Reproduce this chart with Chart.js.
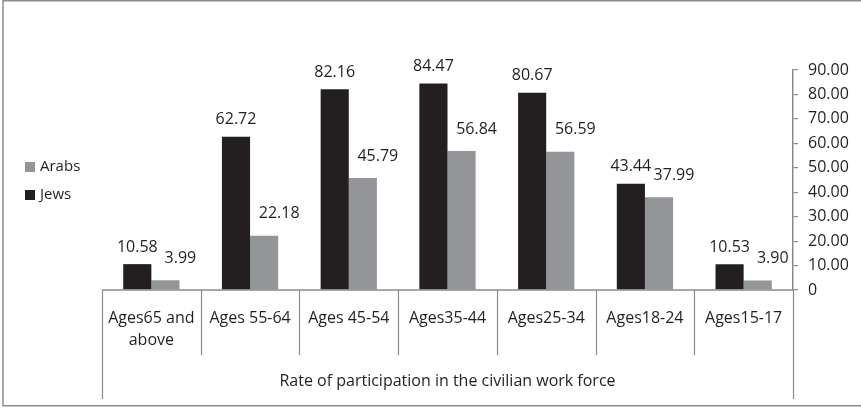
<!DOCTYPE html>
<html>
<head>
<meta charset="utf-8">
<script src="https://cdn.jsdelivr.net/npm/chart.js@4/dist/chart.umd.min.js"></script>
<style>
  html, body { margin: 0; padding: 0; background: #ffffff; }
  #wrap { width: 861px; height: 408px; position: relative; }
</style>
</head>
<body>
<div id="wrap"><canvas id="c" width="861" height="408"></canvas></div>
<script>
// ---- data ----
const categories = [["Ages65 and", "above"], "Ages 55-64", "Ages 45-54", "Ages35-44", "Ages25-34", "Ages18-24", "Ages15-17"];
const jews  = [10.58, 62.72, 82.16, 84.47, 80.67, 43.44, 10.53];
const arabs = [3.99, 22.18, 45.79, 56.84, 56.59, 37.99, 3.90];
const yTicks = [0, 10, 20, 30, 40, 50, 60, 70, 80, 90];
const axisTitle = "Rate of participation in the civilian work force";

const FONT = "'Open Sans', sans-serif";
const TEXT = "#231f20";
const LINE = "#8a8a8a";

const overlay = {
  id: 'overlay',
  beforeDraw(chart) {
    const ctx = chart.ctx;
    ctx.save();
    ctx.fillStyle = '#ffffff';
    ctx.fillRect(0, 0, chart.width, chart.height);
    ctx.strokeStyle = '#8c8c8c';
    ctx.lineWidth = 1.5;
    ctx.strokeRect(3, 0.75, 880, 405);
    ctx.restore();
  },
  afterDraw(chart) {
    const ctx = chart.ctx;
    const xs = chart.scales.x, ys = chart.scales.y;
    const area = chart.chartArea;
    ctx.save();
    // category separators
    ctx.strokeStyle = LINE;
    ctx.lineWidth = 1.2;
    const n = categories.length;
    for (let i = 0; i <= n; i++) {
      const x = Math.round(xs.getPixelForValue(i - 0.5)) + 0.5;
      const bottom = (i === 0 || i === n) ? 399 : 355;
      ctx.beginPath();
      ctx.moveTo(x, area.bottom);
      ctx.lineTo(x, bottom);
      ctx.stroke();
    }
    // baseline
    ctx.lineWidth = 1.5;
    ctx.beginPath();
    ctx.moveTo(area.left, ys.getPixelForValue(0));
    ctx.lineTo(area.right, ys.getPixelForValue(0));
    ctx.stroke();
    // value labels
    ctx.fillStyle = TEXT;
    ctx.font = "16px " + FONT;
    ctx.textAlign = 'center';
    ctx.textBaseline = 'middle';
    chart.data.datasets.forEach((ds, di) => {
      const meta = chart.getDatasetMeta(di);
      const dx = di === 0 ? 0 : 15;
      const dy = di === 0 ? 17 : 22;
      meta.data.forEach((bar, i) => {
        ctx.fillText(ds.data[i].toFixed(2), bar.x + dx, bar.y - dy);
      });
    });
    // legend (Arabs above Jews)
    ctx.font = "15px " + FONT;
    const order = [1, 0];
    ctx.textAlign = 'left';
    order.forEach((di, k) => {
      const ds = chart.data.datasets[di];
      const cy = 167 + k * 28;
      ctx.fillStyle = ds.backgroundColor;
      ctx.fillRect(25, cy - 5, 10, 10);
      ctx.fillStyle = TEXT;
      ctx.fillText(ds.label, 40, cy);
    });
    ctx.restore();
  }
};

new Chart(document.getElementById('c'), {
  type: 'bar',
  data: {
    labels: categories,
    datasets: [
      { label: 'Jews', data: jews, backgroundColor: '#231f20', borderWidth: 0 },
      { label: 'Arabs', data: arabs, backgroundColor: '#939598', borderWidth: 0 }
    ]
  },
  options: {
    responsive: false,
    animation: false,
    devicePixelRatio: 1,
    layout: { padding: { left: 102, top: 70, right: 0, bottom: 0 } },
    datasets: { bar: { categoryPercentage: 0.57, barPercentage: 1.0 } },
    plugins: { legend: { display: false }, tooltip: { enabled: false } },
    scales: {
      x: {
        offset: true,
        grid: { display: false, drawTicks: false },
        border: { display: false },
        ticks: { color: TEXT, font: { family: FONT, size: 16, lineHeight: '21.5px' }, padding: 18, maxRotation: 0, autoSkip: false },
        title: { display: true, text: axisTitle, color: TEXT, font: { family: FONT, size: 16, lineHeight: 1.2 }, padding: { top: 0, bottom: 17 } },
        afterFit(scale) { scale.height = 118; }
      },
      y: {
        position: 'right',
        min: 0, max: 90,
        afterBuildTicks(scale) { scale.ticks = yTicks.map(v => ({ value: v })); },
        grid: { drawOnChartArea: false, tickLength: 5, color: LINE, lineWidth: 1.2 },
        border: { display: true, color: LINE, width: 1.5 },
        ticks: { color: TEXT, font: { family: FONT, size: 16 }, padding: 10,
                 callback: v => v === 0 ? '0' : v.toFixed(2) },
        afterFit(scale) { scale.width = 68; }
      }
    }
  },
  plugins: [overlay]
});
</script>
</body>
</html>
